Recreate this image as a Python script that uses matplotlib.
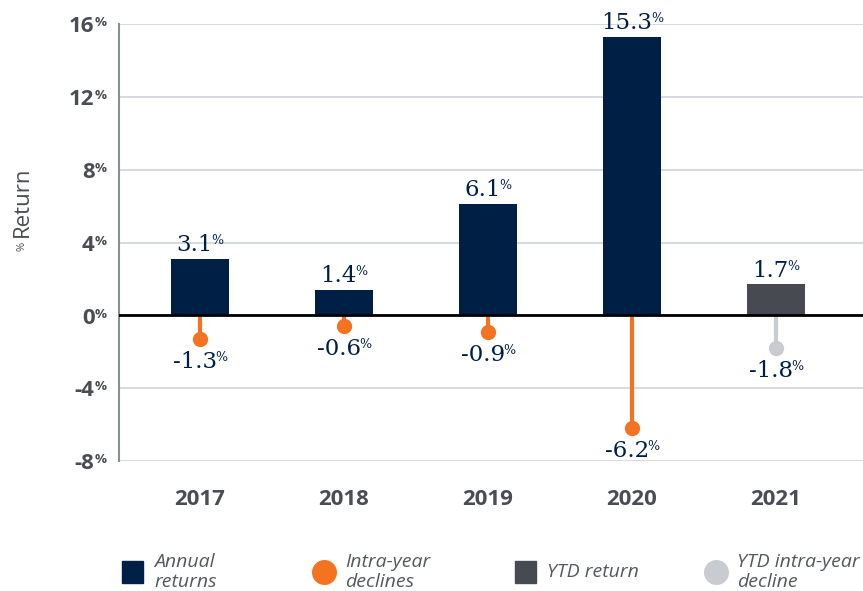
import matplotlib
matplotlib.use("Agg")
import matplotlib.pyplot as plt
from matplotlib.offsetbox import TextArea, HPacker, AnnotationBbox
from matplotlib.lines import Line2D
from matplotlib.patches import Rectangle

years = ["2017", "2018", "2019", "2020", "2021"]
annual_returns = [3.1, 1.4, 6.1, 15.3, None]
ytd_return = [None, None, None, None, 1.7]
intra_declines = [-1.3, -0.6, -0.9, -6.2, None]
ytd_decline = [None, None, None, None, -1.8]
yticks = [-8, -4, 0, 4, 8, 12, 16]

NAVY = "#001f45"
ORANGE = "#f47321"
DGREY = "#474a51"
LGREY = "#c8ccd0"
TXT = "#4a4d54"

fig = plt.figure(figsize=(8.63, 5.91), dpi=100)
ax = fig.add_axes([119/863, 1-461/591, 1-119/863, (461-24)/591])
ax.set_xlim(-0.5625, 4.604)
ax.set_ylim(-8, 16)

for yv in yticks:
    ax.axhline(yv, color="#d3d7db", lw=1.3, zorder=0)
ax.axhline(0, color="black", lw=2, zorder=3)

def pct_box(num, fs, family, color, weight="normal", sep=0, pfrac=0.55):
    a = TextArea(num, textprops=dict(fontsize=fs, family=family, color=color, fontweight=weight))
    b = TextArea("%", textprops=dict(fontsize=fs*pfrac, family=family, color=color, fontweight=weight))
    return HPacker(children=[a, b], align="top", pad=0, sep=sep)

serif = "DejaVu Serif"
VFS = 16.5
for i, y in enumerate(years):
    for vals, col in ((annual_returns, NAVY), (ytd_return, DGREY)):
        v = vals[i]
        if v is not None:
            ax.bar(i, v, width=0.4, color=col, zorder=2)
            ab = AnnotationBbox(pct_box(f"{v:.1f}", VFS, serif, NAVY, sep=-1), (i, v),
                                xybox=(0, 2), boxcoords="offset points",
                                box_alignment=(0.5, 0), frameon=False, pad=0)
            ax.add_artist(ab)
    for vals, col in ((intra_declines, ORANGE), (ytd_decline, LGREY)):
        v = vals[i]
        if v is not None:
            ax.plot([i, i], [0, v], color=col, lw=3, zorder=2, solid_capstyle="butt")
            ax.plot([i], [v], "o", color=col, ms=10, zorder=4)
            ab = AnnotationBbox(pct_box(f"{v:.1f}", VFS, serif, NAVY, sep=-1), (i, v),
                                xybox=(0, -8.5), boxcoords="offset points",
                                box_alignment=(0.5, 1), frameon=False, pad=0)
            ax.add_artist(ab)

# y tick labels
ax.set_yticks([])
for yv in yticks:
    ab = AnnotationBbox(pct_box(f"{yv}", 16, "Open Sans", TXT, "bold", sep=0, pfrac=0.6), (0, yv),
                        xycoords=ax.get_yaxis_transform(),
                        xybox=(-9, -2), boxcoords="offset points",
                        box_alignment=(1, 0.5), frameon=False, pad=0,
                        annotation_clip=False)
    ax.add_artist(ab)

ax.set_xticks(range(len(years)))
ax.set_xticklabels(years, fontsize=16, fontweight="bold", family="Open Sans", color=TXT)
ax.tick_params(axis="x", length=0, pad=20)
for s in ["top", "right", "bottom"]:
    ax.spines[s].set_visible(False)
ax.spines["left"].set_color("#8a8d91")
ax.spines["left"].set_linewidth(1.5)

# y label
fig.text(22/863, 1-202/591, "Return", rotation=90, fontsize=16, family="Open Sans",
         color=TXT, ha="center", va="center")
fig.text(22/863, 1-246/591, "%", rotation=90, fontsize=8, family="Open Sans",
         color=TXT, ha="center", va="center")

# legend
leg_items = [
    ("square", NAVY, 122, "Annual\nreturns"),
    ("circle", ORANGE, 313, "Intra-year\ndeclines"),
    ("square", DGREY, 515, "YTD return"),
    ("circle", LGREY, 705, "YTD intra-year\ndecline"),
]
W, H = 863, 591
for kind, col, x0, label in leg_items:
    yc = 572
    if kind == "square":
        fig.patches.append(Rectangle((x0/W, 1-(yc+11)/H), 21/W, 22/H, color=col,
                                     transform=fig.transFigure, figure=fig))
    else:
        fig.lines.append(Line2D([(x0+11)/W], [1-yc/H], marker="o", ms=17, color=col,
                                transform=fig.transFigure, figure=fig, ls="none"))
    fig.text((x0+32)/W, 1-yc/H, label, fontsize=14, style="italic", family="Open Sans",
             color="#55585d", ha="left", va="center", linespacing=1.1)

fig.savefig("out.png", dpi=100)
